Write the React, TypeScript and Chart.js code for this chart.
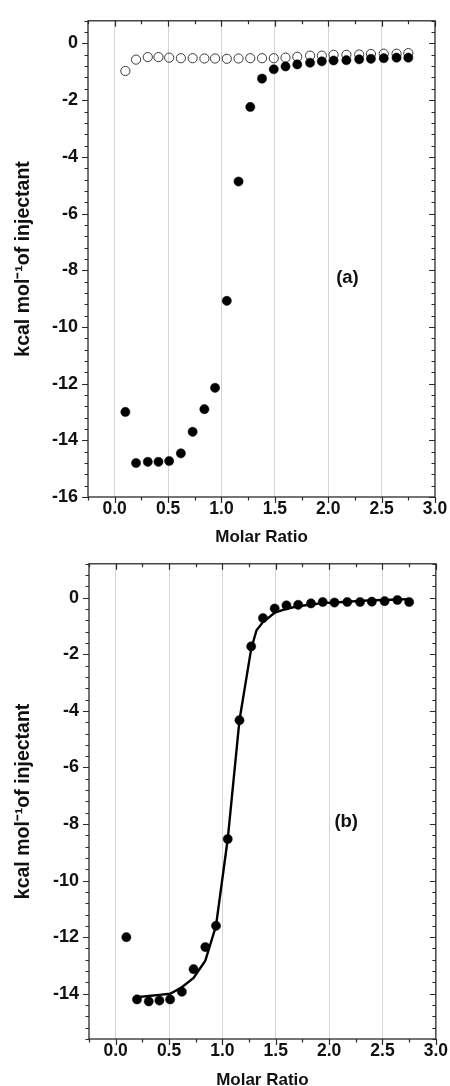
import React, { useEffect, useRef } from "react";
import { Chart, registerables } from "chart.js";

Chart.register(...registerables);

// ---------- data ----------
const MOLAR_RATIO = [0.10, 0.20, 0.31, 0.41, 0.51, 0.62, 0.73, 0.84, 0.94, 1.05, 1.16, 1.27, 1.38, 1.49, 1.60, 1.71, 1.83, 1.94, 2.05, 2.17, 2.29, 2.40, 2.52, 2.64, 2.75];

// panel (a): raw titration (filled) and blank/dilution (open)
const A_TITRATION = [-13.0, -14.8, -14.76, -14.76, -14.73, -14.46, -13.7, -12.9, -12.15, -9.08, -4.87, -2.24, -1.24, -0.91, -0.81, -0.74, -0.68, -0.63, -0.6, -0.59, -0.56, -0.54, -0.52, -0.5, -0.5];
const A_BLANK = [-0.97, -0.57, -0.48, -0.48, -0.5, -0.52, -0.52, -0.53, -0.53, -0.54, -0.53, -0.52, -0.52, -0.52, -0.5, -0.47, -0.43, -0.43, -0.4, -0.4, -0.39, -0.37, -0.36, -0.36, -0.34];

// panel (b): corrected heats and fitted curve
const B_CORRECTED = [-12.0, -14.2, -14.27, -14.24, -14.2, -13.93, -13.13, -12.35, -11.6, -8.53, -4.33, -1.72, -0.72, -0.38, -0.27, -0.25, -0.2, -0.15, -0.17, -0.15, -0.15, -0.14, -0.12, -0.08, -0.15];
const B_FIT_X = [0.20, 0.31, 0.41, 0.51, 0.62, 0.73, 0.84, 0.94, 1.05, 1.16, 1.27, 1.32, 1.38, 1.49, 1.60, 1.71, 1.83, 1.94, 2.05, 2.17, 2.29, 2.40, 2.52, 2.64, 2.75];
const B_FIT_Y = [-14.12, -14.08, -14.04, -14.0, -13.77, -13.44, -12.83, -11.6, -8.53, -4.33, -1.8, -1.15, -0.86, -0.53, -0.39, -0.3, -0.24, -0.19, -0.17, -0.14, -0.11, -0.09, -0.08, -0.06, -0.05];

// ticks
const X_TICKS = [0, 0.5, 1.0, 1.5, 2.0, 2.5, 3.0];
const X_MINOR_TICKS = [-0.25, 0.25, 0.75, 1.25, 1.75, 2.25, 2.75];
const A_Y_TICKS = [-16, -14, -12, -10, -8, -6, -4, -2, 0];
const B_Y_TICKS = [-14, -12, -10, -8, -6, -4, -2, 0];

const X_TITLE = "Molar Ratio";
const Y_TITLE = "kcal mol\u207B\u00B9of injectant";

const FONT = "'Liberation Sans', Arial, Helvetica, sans-serif";
const TEXT = "#111111";

type Panel = {
  label: string;
  labelX: number;
  labelY: number;
  yMin: number;
  yMax: number;
  yTicks: number[];
  yAxisWidth: number;
  xAxisHeight: number;
  padTop: number;
  padRight: number;
  datasets: any[];
};

const pts = (xs: number[], ys: number[]) => xs.map((x, i) => ({ x, y: ys[i] }));

function framePlugin(panel: Panel) {
  return {
    id: "frame",
    afterDraw(chart: any) {
      const { ctx, chartArea } = chart;
      const { left, right, top, bottom } = chartArea;
      const xs = chart.scales.x;
      const ys = chart.scales.y;
      ctx.save();
      ctx.strokeStyle = "#2a2a2a";
      ctx.lineWidth = 1.3;
      ctx.strokeRect(left, top, right - left, bottom - top);
      ctx.lineWidth = 1.2;
      ctx.beginPath();
      const xTick = (v: number, len: number) => {
        const p = Math.round(xs.getPixelForValue(v)) + 0.5;
        ctx.moveTo(p, bottom);
        ctx.lineTo(p, bottom + len);
        ctx.moveTo(p, top);
        ctx.lineTo(p, top + len);
      };
      X_TICKS.forEach((v) => xTick(v, 6));
      X_MINOR_TICKS.forEach((v) => xTick(v, 3.5));
      for (let k = 0; ; k++) {
        const v = panel.yMin + k * 0.4;
        if (v > panel.yMax + 1e-6) break;
        const major = panel.yTicks.some((t) => Math.abs(t - v) < 1e-6);
        const len = major ? 6 : 3.5;
        const p = Math.round(ys.getPixelForValue(v)) + 0.5;
        ctx.moveTo(left - len, p);
        ctx.lineTo(left, p);
        ctx.moveTo(right - len, p);
        ctx.lineTo(right, p);
      }
      ctx.stroke();
      ctx.fillStyle = TEXT;
      ctx.font = `bold 18.5px ${FONT}`;
      ctx.textAlign = "center";
      ctx.textBaseline = "middle";
      ctx.fillText(panel.label, xs.getPixelForValue(panel.labelX), ys.getPixelForValue(panel.labelY));
      ctx.restore();
    },
  };
}

function makeConfig(panel: Panel): any {
  return {
    type: "scatter",
    data: { datasets: panel.datasets },
    plugins: [framePlugin(panel)],
    options: {
      animation: false,
      responsive: false,
      events: [],
      layout: { padding: { top: panel.padTop, right: panel.padRight, left: 0, bottom: 0 } },
      plugins: { legend: { display: false }, tooltip: { enabled: false } },
      scales: {
        x: {
          type: "linear",
          min: -0.25,
          max: 3.0,
          afterBuildTicks: (s: any) => {
            s.ticks = X_TICKS.map((v) => ({ value: v }));
          },
          afterFit: (s: any) => {
            s.height = panel.xAxisHeight;
          },
          grid: {
            color: (c: any) => (c.tick && c.tick.value < 2.9 ? "#d4d4d4" : "rgba(0,0,0,0)"),
            lineWidth: 1,
            drawTicks: false,
          },
          border: { display: false },
          ticks: {
            color: TEXT,
            font: { family: FONT, size: 17.5, weight: "bold" },
            padding: 2,
            maxRotation: 0,
            callback: (v: number) => v.toFixed(1),
          },
          title: {
            display: true,
            text: X_TITLE,
            color: TEXT,
            font: { family: FONT, size: 17, weight: "bold", lineHeight: 1 },
            padding: { top: 0, bottom: -3 },
          },
        },
        y: {
          type: "linear",
          min: panel.yMin,
          max: panel.yMax,
          afterBuildTicks: (s: any) => {
            s.ticks = panel.yTicks.map((v) => ({ value: v }));
          },
          afterFit: (s: any) => {
            s.width = panel.yAxisWidth;
          },
          grid: { display: false, drawTicks: false },
          border: { display: false },
          ticks: {
            color: TEXT,
            font: { family: FONT, size: 18, weight: "bold" },
            padding: 10,
            callback: (v: number) => String(v),
          },
          title: {
            display: true,
            text: Y_TITLE,
            color: TEXT,
            font: { family: FONT, size: 19.5, weight: "bold", lineHeight: 1.2 },
            padding: { top: 12, bottom: 0 },
          },
        },
      },
    },
  };
}

const filled = (data: any[]) => ({
  type: "scatter",
  data,
  pointRadius: 4.6,
  pointBackgroundColor: "#000",
  pointBorderColor: "#000",
  pointBorderWidth: 0.5,
  showLine: false,
});

const PANEL_A: Panel = {
  label: "(a)",
  labelX: 2.18,
  labelY: -8.27,
  yMin: -16,
  yMax: 0.8,
  yTicks: A_Y_TICKS,
  yAxisWidth: 88,
  xAxisHeight: 46,
  padTop: 18,
  padRight: 15,
  datasets: [
    filled(pts(MOLAR_RATIO, A_TITRATION)),
    {
      type: "scatter",
      data: pts(MOLAR_RATIO, A_BLANK),
      pointRadius: 4.6,
      pointBackgroundColor: "rgba(255,255,255,0)",
      pointBorderColor: "#3a3a3a",
      pointBorderWidth: 1,
      showLine: false,
    },
  ],
};

const PANEL_B: Panel = {
  label: "(b)",
  labelX: 2.16,
  labelY: -7.94,
  yMin: -15.6,
  yMax: 1.2,
  yTicks: B_Y_TICKS,
  yAxisWidth: 89,
  xAxisHeight: 47,
  padTop: 18,
  padRight: 13,
  datasets: [
    filled(pts(MOLAR_RATIO, B_CORRECTED)),
    {
      type: "line",
      data: pts(B_FIT_X, B_FIT_Y),
      borderColor: "#000",
      borderWidth: 2.4,
      pointRadius: 0,
      tension: 0,
      fill: false,
    },
  ],
};

function PanelChart({ panel }: { panel: Panel }) {
  const ref = useRef<HTMLCanvasElement | null>(null);
  useEffect(() => {
    if (!ref.current) return;
    const chart = new Chart(ref.current, makeConfig(panel));
    return () => chart.destroy();
  }, [panel]);
  return (
    <canvas
      ref={ref}
      width={450}
      height={543}
      style={{ display: "block", width: 450, height: 543 }}
    />
  );
}

export default function App() {
  return (
    <div style={{ position: "absolute", left: 0, top: 0, width: 450, height: 1086, background: "#fff" }}>
      <PanelChart panel={PANEL_A} />
      <PanelChart panel={PANEL_B} />
    </div>
  );
}
